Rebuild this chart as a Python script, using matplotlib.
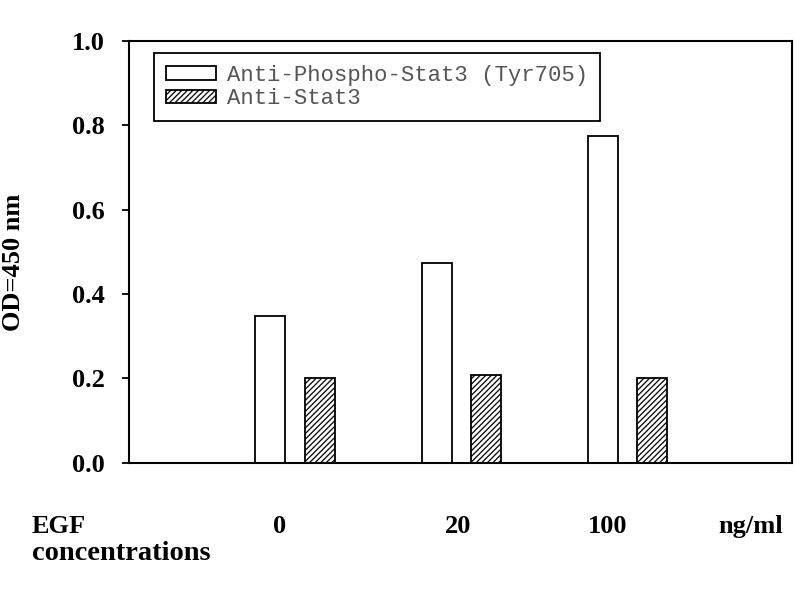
import numpy as np
import matplotlib
matplotlib.use("Agg")
import matplotlib.pyplot as plt
import matplotlib.transforms as mtransforms

# ---- data
doses = ["0", "20", "100"]
phospho = [0.348, 0.474, 0.775]
total = [0.201, 0.207, 0.200]
series_names = ["Anti-Phospho-Stat3 (Tyr705)", "Anti-Stat3"]
yticks = [0.0, 0.2, 0.4, 0.6, 0.8, 1.0]

plt.rcParams['hatch.linewidth'] = 0.9
plt.rcParams['hatch.color'] = 'black'

serif = dict(family='Liberation Serif', weight='bold', size=19)

fig = plt.figure(figsize=(8, 6), dpi=100)
ax = fig.add_axes([0.161, 0.229, 0.829, 0.703])

x = np.arange(len(doses))
w = 0.18
off = 0.148
ax.bar(x - off, phospho, w, color='white', edgecolor='black', linewidth=1.3,
       label=series_names[0])
ax.bar(x + off, total, w, color='white', edgecolor='black', linewidth=1.3,
       hatch='//////', label=series_names[1])

ax.set_xlim(-1.0, 2.99)
ax.set_ylim(0, 1.0)
ax.set_yticks(yticks)
ax.set_yticklabels([f"{t:.1f}" for t in yticks], fontdict=serif)
ax.set_xticks([])
ax.tick_params(axis='y', direction='out', length=5, width=1.3, pad=12)
for s in ax.spines.values():
    s.set_linewidth(1.5)

ax.set_ylabel("OD=450 nm", fontdict=serif)
ax.yaxis.set_label_coords(-0.157, 0.476)

# x labels under the axis
tr = mtransforms.blended_transform_factory(ax.transData, ax.transAxes)
label_x = [-0.09, 0.98, 1.88]
for lx, d in zip(label_x, doses):
    ax.text(lx, -0.167, d, transform=tr, ha='center', va='baseline', **serif)
ax.text(2.74, -0.167, "ng/ml", transform=tr, ha='center', va='baseline', **serif)
ax.text(-0.146, -0.167, "EGF", transform=ax.transAxes, ha='left', va='baseline', **serif)
ax.text(-0.146, -0.231, "concentrations", transform=ax.transAxes, ha='left',
        va='baseline', family='Liberation Serif', weight='bold', size=20.5)

leg = ax.legend(loc='upper left', bbox_to_anchor=(0.0377, 0.9715), borderaxespad=0,
                prop=dict(family='Liberation Mono', size=16),
                handlelength=2.25, handleheight=0.55, handletextpad=0.5,
                labelspacing=0.1, borderpad=0.55, fancybox=False,
                edgecolor='black', framealpha=1)
leg.get_frame().set_linewidth(1.3)
for t in leg.get_texts():
    t.set_color('#555555')

fig.savefig("out.png", dpi=100)
